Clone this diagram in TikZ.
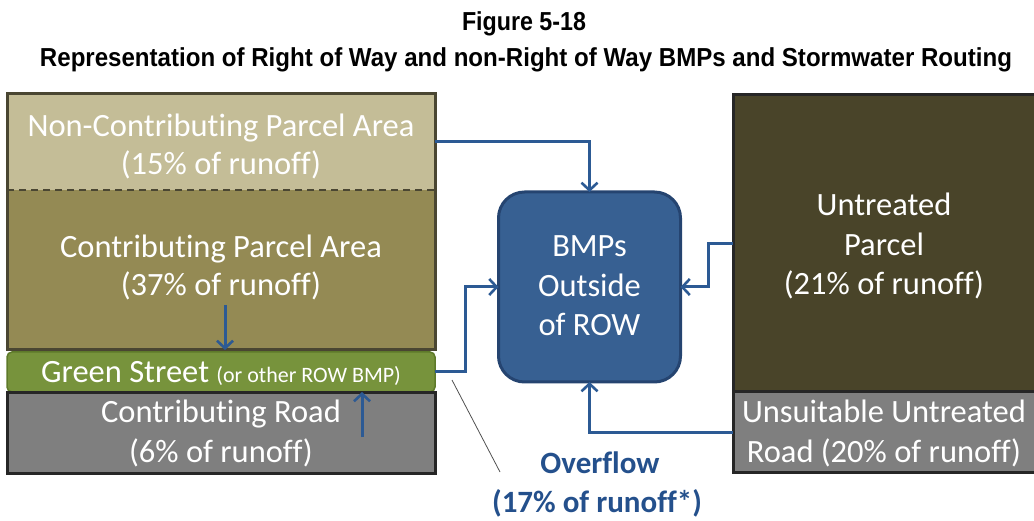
\documentclass[tikz,border=0pt]{standalone}
\usepackage{fontspec}
\setmainfont{Carlito}[Ligatures=NoCommon]
\newfontfamily\titlefont{Liberation Sans}
\usetikzlibrary{arrows.meta,fit}
\definecolor{ncfill}{HTML}{C4BD97}
\definecolor{cpfill}{HTML}{948A54}
\definecolor{gsfill}{HTML}{77933C}
\definecolor{gsline}{HTML}{5E7A2A}
\definecolor{roadfill}{HTML}{7F7F7F}
\definecolor{upfill}{HTML}{494429}
\definecolor{darkline}{HTML}{262626}
\definecolor{frameline}{HTML}{4A4632}
\definecolor{bmpfill}{HTML}{376092}
\definecolor{bmpline}{HTML}{254470}
\definecolor{flowblue}{HTML}{2C5A94}
\definecolor{ovblue}{HTML}{24508C}
\begin{document}
\begin{tikzpicture}[x=1pt,y=-1pt,
  area/.style={rectangle, inner sep=0pt, outer sep=0pt},
  lbl/.style={text=white, inner sep=0pt, anchor=base, font=\fontsize{32.5}{38}\selectfont},
  titletext/.style={inner sep=0pt, anchor=base, font=\titlefont\bfseries\fontsize{26}{30}\selectfont},
  flow/.style={draw=flowblue, line width=3pt, -{Straight Barb[length=7.5pt,width=16pt,line width=2.6pt]}},
  ovtext/.style={text=ovblue, inner sep=0pt, anchor=base, font=\bfseries\fontsize{31}{38}\selectfont}]
\useasboundingbox (0,0) rectangle (1034,521);
\clip (0,0) rectangle (1034,521);

% title
\node[titletext] (fig) at (524,31) {\resizebox{124pt}{\height}{Figure 5-18}};
\node[titletext] (ttl) at (526,67) {\resizebox{972pt}{\height}{Representation of Right of Way and non-Right of Way BMPs and Stormwater Routing}};

% left column
\node[area, fill=ncfill, minimum width=428pt, minimum height=96pt] (nc) at (221,142) {};
\node[area, fill=cpfill, minimum width=428pt, minimum height=160pt] (cp) at (221,270) {};
\node[fit=(nc)(cp), inner sep=0pt, draw=frameline, line width=3pt] (pframe) {};
\draw[frameline, line width=1.5pt, dash pattern=on 7pt off 5pt] (nc.south west) -- (nc.south east);
\node[area, fill=gsfill, draw=gsline, line width=1.5pt, rounded corners=5pt, minimum width=428pt, minimum height=40pt] (gs) at (221,372) {};
\node[area, fill=roadfill, draw=darkline, line width=3pt, minimum width=428pt, minimum height=80pt] (cr) at (221,433) {};

% right column
\node[area, fill=upfill, draw=darkline, line width=3pt, minimum width=304pt, minimum height=297pt] (up) at (885,243.5) {};
\node[area, fill=roadfill, draw=darkline, line width=3pt, minimum width=304pt, minimum height=80pt] (ur) at (885,432) {};

% BMP box
\node[area, fill=bmpfill, draw=bmpline, line width=3pt, rounded corners=26pt, minimum width=182pt, minimum height=190pt] (bmp) at (589.5,287) {};

% labels
\node[lbl] (nc1) at (221,137) {Non-Contributing Parcel Area};
\node[lbl] (nc2) at (221,175) {(15\% of runoff)};
\node[lbl] (cp1) at (221,258) {Contributing Parcel Area};
\node[lbl] (cp2) at (221,296) {(37\% of runoff)};
\node[lbl] (gs1) at (221,383) {Green Street {\fontsize{22}{26}\selectfont (or other ROW BMP)}};
\node[lbl] (cr1) at (221,422) {Contributing Road};
\node[lbl] (cr2) at (221,462) {(6\% of runoff)};
\node[lbl] (b1) at (589.5,257) {BMPs};
\node[lbl] (b2) at (589.5,297) {Outside};
\node[lbl] (b3) at (589.5,336) {of ROW};
\node[lbl] (u1) at (884,216) {Untreated};
\node[lbl] (u2) at (884,256) {Parcel};
\node[lbl] (u3) at (884,295) {(21\% of runoff)};
\node[lbl] (r1) at (884,422) {Unsuitable Untreated};
\node[lbl] (r2) at (884,462) {Road (20\% of runoff)};
\node[ovtext] (ov1) at (600,473) {Overflow};
\node[ovtext] (ov2) at (597,512) {(17\% of runoff*)};

% flows
\coordinate (cpin) at (225,305);
\coordinate (crin) at (362,437);
\draw[flow] (cpin) -- (cp.south -| cpin);
\draw[flow] (crin) -- (gs.south -| crin);
\draw[flow] (nc.east) -| (bmp.north);
\draw[flow] (gs.east) -- ++(30,0) |- (bmp.west);
\draw[flow] (up.west) -- ++(-25,0) |- (bmp.east);
\draw[flow] (ur.west) -| (bmp.south);

% overflow pointer
\coordinate (ovA) at (452,380);
\coordinate (ovB) at (500,472);
\draw[darkline!80, line width=0.8pt] (ovA) -- (ovB);
\end{tikzpicture}
\end{document}
